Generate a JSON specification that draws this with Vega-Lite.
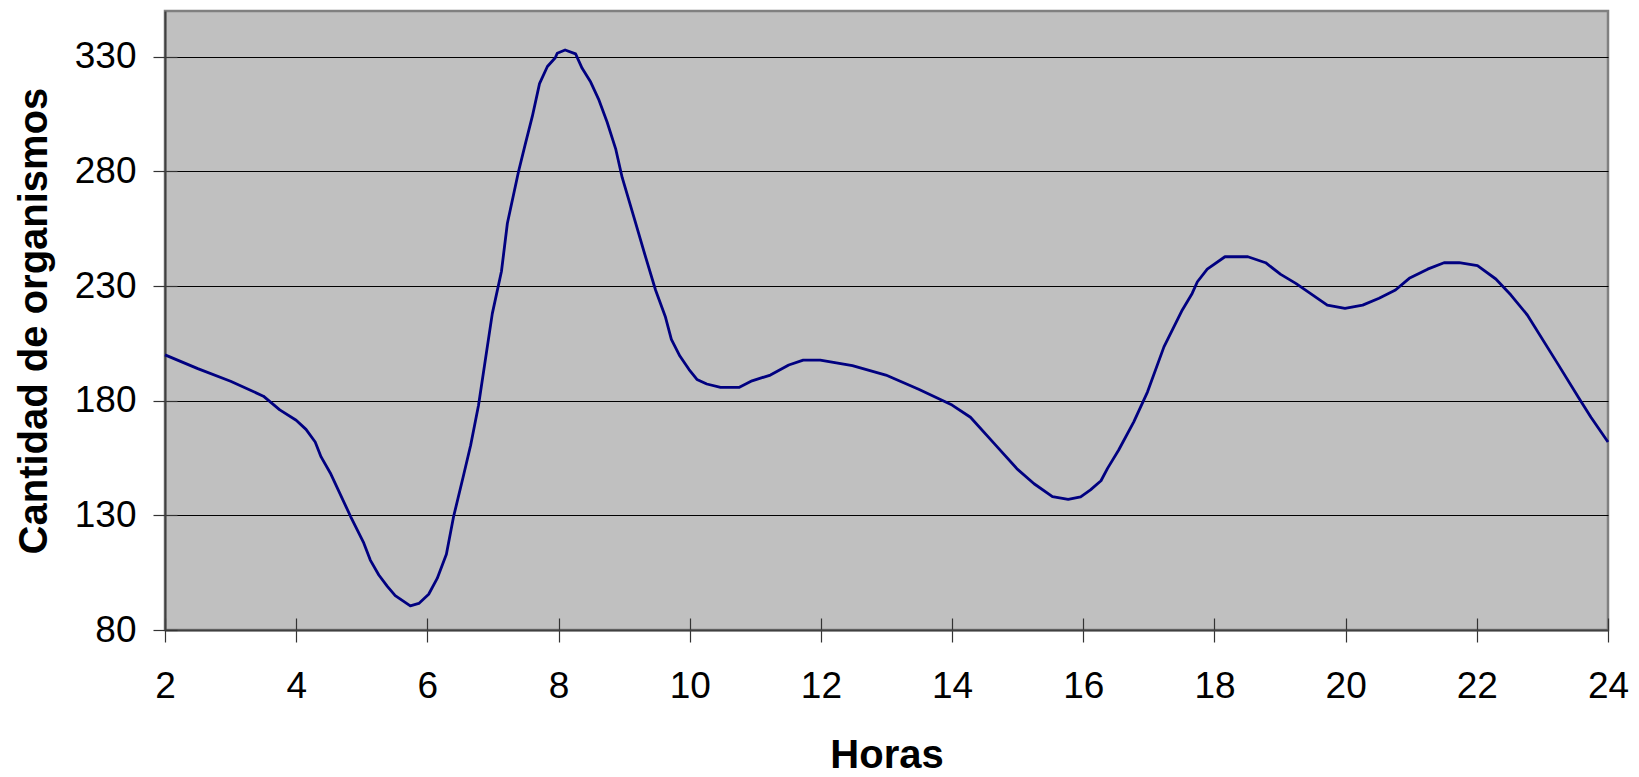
{
  "$schema": "https://vega.github.io/schema/vega-lite/v6.json",
  "autosize": "none",
  "padding": {"left": 165, "top": 11, "right": 31, "bottom": 147},
  "width": 1443,
  "height": 619,
  "background": "white",
  "config": {
    "view": {"fill": "#C0C0C0", "stroke": "#808080", "strokeWidth": 2.5},
    "font": "Liberation Sans",
    "axis": {"labelFont": "Liberation Sans", "titleFont": "Liberation Sans", "labelColor": "black", "titleColor": "black"}
  },
  "data": {
    "values": [
      {"horas": 2.0, "cantidad": 200},
      {"horas": 2.5, "cantidad": 194},
      {"horas": 3.0, "cantidad": 188.5},
      {"horas": 3.5, "cantidad": 182},
      {"horas": 3.75, "cantidad": 176},
      {"horas": 4.0, "cantidad": 171.5},
      {"horas": 4.15, "cantidad": 167.5},
      {"horas": 4.29, "cantidad": 162},
      {"horas": 4.38, "cantidad": 155.5},
      {"horas": 4.52, "cantidad": 148.5},
      {"horas": 4.83, "cantidad": 129.5},
      {"horas": 5.03, "cantidad": 118},
      {"horas": 5.13, "cantidad": 110.5},
      {"horas": 5.26, "cantidad": 104},
      {"horas": 5.39, "cantidad": 99},
      {"horas": 5.51, "cantidad": 95},
      {"horas": 5.74, "cantidad": 90.5},
      {"horas": 5.87, "cantidad": 91.6},
      {"horas": 6.02, "cantidad": 95.6},
      {"horas": 6.15, "cantidad": 102.5},
      {"horas": 6.29, "cantidad": 113},
      {"horas": 6.4, "cantidad": 129.5},
      {"horas": 6.55, "cantidad": 147.3},
      {"horas": 6.66, "cantidad": 160.6},
      {"horas": 6.78, "cantidad": 178},
      {"horas": 6.99, "cantidad": 218},
      {"horas": 7.13, "cantidad": 236.5},
      {"horas": 7.22, "cantidad": 257.4},
      {"horas": 7.39, "cantidad": 280},
      {"horas": 7.49, "cantidad": 291.6},
      {"horas": 7.6, "cantidad": 304},
      {"horas": 7.71, "cantidad": 318.3},
      {"horas": 7.83, "cantidad": 325.8},
      {"horas": 7.95, "cantidad": 329.6},
      {"horas": 7.98, "cantidad": 331.6},
      {"horas": 8.1, "cantidad": 333},
      {"horas": 8.26, "cantidad": 331.3},
      {"horas": 8.36, "cantidad": 325},
      {"horas": 8.49, "cantidad": 319},
      {"horas": 8.61, "cantidad": 311.6},
      {"horas": 8.74, "cantidad": 301.6},
      {"horas": 8.87, "cantidad": 290},
      {"horas": 8.97, "cantidad": 277.4},
      {"horas": 9.15, "cantidad": 260},
      {"horas": 9.33, "cantidad": 242.4},
      {"horas": 9.48, "cantidad": 228.2},
      {"horas": 9.63, "cantidad": 216.5},
      {"horas": 9.72, "cantidad": 206.8},
      {"horas": 9.85, "cantidad": 199.5},
      {"horas": 9.99, "cantidad": 193.6},
      {"horas": 10.11, "cantidad": 189.3},
      {"horas": 10.26, "cantidad": 187.3},
      {"horas": 10.47, "cantidad": 185.8},
      {"horas": 10.75, "cantidad": 185.8},
      {"horas": 10.95, "cantidad": 188.7},
      {"horas": 11.23, "cantidad": 191.2},
      {"horas": 11.51, "cantidad": 195.6},
      {"horas": 11.73, "cantidad": 197.7},
      {"horas": 11.99, "cantidad": 197.7},
      {"horas": 12.48, "cantidad": 195.3},
      {"horas": 12.99, "cantidad": 191.2},
      {"horas": 13.49, "cantidad": 185},
      {"horas": 14.0, "cantidad": 178.1},
      {"horas": 14.28, "cantidad": 172.8},
      {"horas": 14.64, "cantidad": 161.4},
      {"horas": 14.99, "cantidad": 150.3},
      {"horas": 15.25, "cantidad": 143.8},
      {"horas": 15.53, "cantidad": 138.2},
      {"horas": 15.77, "cantidad": 137},
      {"horas": 15.96, "cantidad": 138.1},
      {"horas": 16.11, "cantidad": 141.1},
      {"horas": 16.27, "cantidad": 145.1},
      {"horas": 16.37, "cantidad": 150.5},
      {"horas": 16.54, "cantidad": 158.5},
      {"horas": 16.77, "cantidad": 170.8},
      {"horas": 16.98, "cantidad": 183.9},
      {"horas": 17.23, "cantidad": 203.5},
      {"horas": 17.51, "cantidad": 219.6},
      {"horas": 17.66, "cantidad": 226.8},
      {"horas": 17.74, "cantidad": 231.9},
      {"horas": 17.89, "cantidad": 237.4},
      {"horas": 18.16, "cantidad": 242.8},
      {"horas": 18.51, "cantidad": 242.8},
      {"horas": 18.78, "cantidad": 240.2},
      {"horas": 19.01, "cantidad": 235.1},
      {"horas": 19.24, "cantidad": 231.2},
      {"horas": 19.72, "cantidad": 221.7},
      {"horas": 19.99, "cantidad": 220.3},
      {"horas": 20.26, "cantidad": 221.7},
      {"horas": 20.51, "cantidad": 224.7},
      {"horas": 20.76, "cantidad": 228.3},
      {"horas": 20.97, "cantidad": 233.4},
      {"horas": 21.25, "cantidad": 237.4},
      {"horas": 21.5, "cantidad": 240.2},
      {"horas": 21.73, "cantidad": 240.2},
      {"horas": 22.01, "cantidad": 238.9},
      {"horas": 22.29, "cantidad": 233.1},
      {"horas": 22.52, "cantidad": 226.1},
      {"horas": 22.77, "cantidad": 217.4},
      {"horas": 23.23, "cantidad": 196.3},
      {"horas": 23.56, "cantidad": 181},
      {"horas": 23.74, "cantidad": 172.8},
      {"horas": 24.0, "cantidad": 162}
    ]
  },
  "layer": [
    {
      "mark": {"type": "line", "opacity": 0},
      "encoding": {
        "x": {"field": "horas", "type": "quantitative", "scale": {"domain": [2, 24], "nice": false, "zero": false},
          "axis": {"orient": "bottom", "values": [2,4,6,8,10,12,14,16,18,20,22,24], "tickSize": -12, "tickColor": "#333333", "tickWidth": 1.2, "labels": false, "domain": false, "grid": false, "title": null}},
        "y": {"field": "cantidad", "type": "quantitative", "scale": {"domain": [80, 350], "nice": false, "zero": false},
          "axis": {"orient": "left", "values": [80,130,180,230,280,330], "tickSize": -12, "tickColor": "#333333", "tickWidth": 1.2, "labels": false, "domain": false, "grid": false, "title": null}}
      }
    },
    {
      "mark": {"type": "line", "color": "#000080", "strokeWidth": 2.8, "strokeJoin": "round"},
      "encoding": {
        "x": {"field": "horas", "type": "quantitative", "scale": {"domain": [2, 24], "nice": false, "zero": false},
          "axis": {"orient": "bottom", "values": [2,4,6,8,10,12,14,16,18,20,22,24], "format": "d", "tickSize": 12, "tickColor": "#333333", "tickWidth": 1.2,
            "labelFontSize": 37, "labelPadding": 26, "labelFlush": false, "grid": false,
            "domain": true, "domainColor": "#404040", "domainWidth": 2,
            "title": "Horas", "titleFontSize": 40, "titleFontWeight": "bold", "titlePadding": 31}},
        "y": {"field": "cantidad", "type": "quantitative", "scale": {"domain": [80, 350], "nice": false, "zero": false},
          "axis": {"orient": "left", "values": [80,130,180,230,280,330], "format": "d", "tickSize": 12, "tickColor": "#333333", "tickWidth": 1.2,
            "labelFontSize": 37, "labelPadding": 17, "labelFlush": false,
            "grid": true, "gridColor": "#000000", "gridWidth": 1.2, "gridOpacity": 1,
            "domain": true, "domainColor": "#404040", "domainWidth": 2,
            "title": "Cantidad de organismos", "titleFontSize": 40, "titleFontWeight": "bold", "titlePadding": 20}}
      }
    }
  ],
  "resolve": {"axis": {"x": "independent", "y": "independent"}}
}
